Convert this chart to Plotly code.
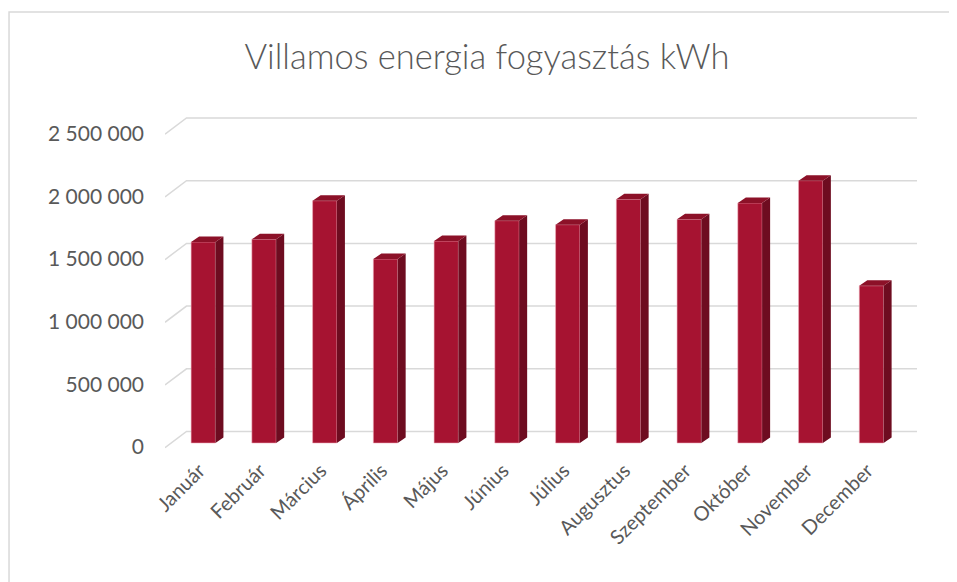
import plotly.graph_objects as go

months = ["Január", "Február", "Március", "Április", "Május", "Június",
          "Július", "Augusztus", "Szeptember", "Október", "November", "December"]
consumption = [1603000, 1625000, 1932000, 1467000, 1610000, 1773000,
               1741000, 1943000, 1784000, 1914000, 2092000, 1254000]
tick_values = [0, 500000, 1000000, 1500000, 2000000, 2500000]

title_text = "Villamos energia fogyasztás kWh"

# pseudo-3D geometry (in axis units)
half_w = 0.2          # half bar width
dx, dy = 0.132, 44000  # bar depth vector
wall_front_x, wall_back_x = -0.63, -0.276
wall_front_dy, wall_back_dy = -37500, 91700
x_range = [-0.63, 11.75]
y_range = [-135600, 2655500]

FRONT = "#A61331"
SIDE = "#6E0C20"
TOP = "#8C1128"
GRID = "#D9D9D9"
TEXT = "#595959"

xs = list(range(len(months)))

fig = go.Figure()

fig.add_trace(go.Bar(
    x=xs, y=consumption, width=2 * half_w,
    marker=dict(color=FRONT, line=dict(color="rgba(240,170,185,0.7)", width=0.8)),
    hoverinfo="skip", showlegend=False,
))

# side faces
sx, sy = [], []
for x, v in zip(xs, consumption):
    sx += [x + half_w, x + half_w + dx, x + half_w + dx, x + half_w, x + half_w, None]
    sy += [0, dy, v + dy, v, 0, None]
fig.add_trace(go.Scatter(x=sx, y=sy, fill="toself", fillcolor=SIDE, mode="lines",
                         line=dict(width=0, color=SIDE), hoverinfo="skip", showlegend=False))
# top faces
tx, ty = [], []
for x, v in zip(xs, consumption):
    tx += [x - half_w, x - half_w + dx, x + half_w + dx, x + half_w, x - half_w, None]
    ty += [v, v + dy, v + dy, v, v, None]
fig.add_trace(go.Scatter(x=tx, y=ty, fill="toself", fillcolor=TOP, mode="lines",
                         line=dict(width=0, color=TOP), hoverinfo="skip", showlegend=False))

shapes = []
for t in tick_values:
    shapes.append(dict(type="path", xref="x", yref="y", layer="below",
                       path=f"M {wall_front_x},{t + wall_front_dy} L {wall_back_x},{t + wall_back_dy} L {x_range[1]},{t + wall_back_dy}",
                       line=dict(color=GRID, width=1.5)))
# chart frame
shapes.append(dict(type="rect", xref="paper", yref="paper",
                   x0=-0.2074, y0=-0.6, x1=1.3, y1=1.28,
                   line=dict(color=GRID, width=1.5), layer="below"))

W, H = 949, 574
fig.update_layout(
    width=W, height=H,
    margin=dict(l=157, r=W - 157 - 752, t=102, b=H - 102 - 350),
    paper_bgcolor="white", plot_bgcolor="white",
    separators=", ",
    font=dict(family="Lato", color=TEXT),
    title=dict(text=title_text, x=479 / W, xref="container", xanchor="center",
               y=1 - 49 / H, yref="container", yanchor="middle",
               font=dict(family="Lato", size=34.5, color=TEXT, weight=300)),
    shapes=shapes,
    xaxis=dict(range=x_range, tickvals=xs, ticktext=months, tickangle=-45,
               showgrid=False, zeroline=False, showline=False, ticks="",
               automargin=False, ticklabelshift=-4, ticklabelstandoff=-6,
               tickfont=dict(size=20, color=TEXT)),
    yaxis=dict(range=y_range, tickvals=tick_values, tickformat=",d",
               showgrid=False, zeroline=False, showline=False, ticks="",
               automargin=False,
               ticklabelstandoff=20, ticklabelshift=4,
               tickfont=dict(size=21, color=TEXT)),
    showlegend=False,
)

fig.write_html("out.html")
